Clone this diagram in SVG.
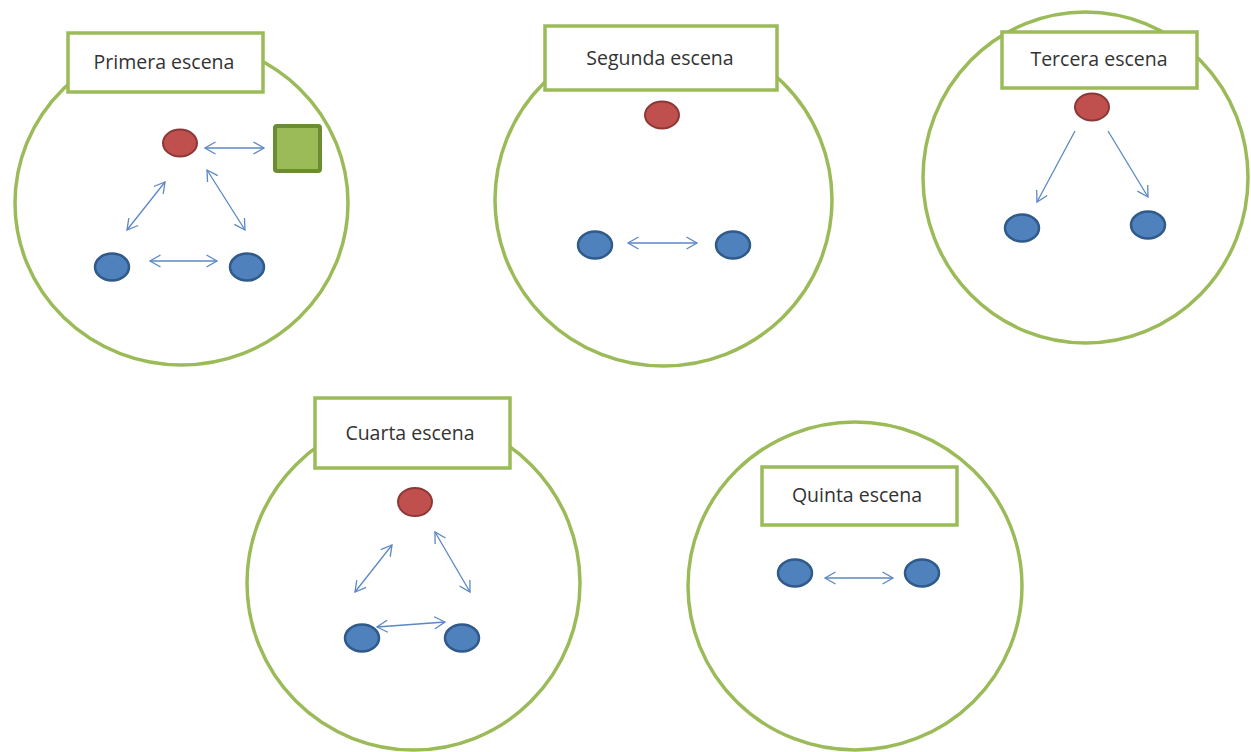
<svg xmlns="http://www.w3.org/2000/svg" width="1251" height="752" viewBox="0 0 1251 752">
<defs>
<style>
.scene{fill:none;stroke:#9BBB59;stroke-width:3.5}
.label rect{fill:#fff;stroke:#9BBB59;stroke-width:3.5}
.label text{font-family:"Open Sans","Liberation Sans",sans-serif;font-size:19.5px;fill:#333;text-anchor:middle}
.red{fill:#C0504D;stroke:#8C3836;stroke-width:2}
.blue{fill:#4F81BD;stroke:#2F5A8A;stroke-width:2.5}
.sq{fill:#9BBB59;stroke:#6B8C33;stroke-width:4}
.conn line{stroke:#5B87C5;stroke-width:1.3;fill:none;marker-end:url(#ah);marker-start:url(#ah)}
.conn line.one{marker-start:none}
</style>
<marker id="ah" viewBox="0 0 14 14" refX="12" refY="7" markerWidth="14" markerHeight="14" markerUnits="userSpaceOnUse" orient="auto-start-reverse">
<path d="M1.5,1 L12,7 L1.5,13" fill="none" stroke="#5B87C5" stroke-width="1.3"/>
</marker>
</defs>
<rect width="1251" height="752" fill="#fff"/>

<g id="scene1">
<ellipse class="scene" cx="181.5" cy="203" rx="166.5" ry="162"/>
<g class="label"><rect x="68" y="33" width="195" height="59"/><text x="164" y="69">Primera escena</text></g>
</g>
<g id="scene2">
<ellipse class="scene" cx="663.5" cy="200" rx="168.5" ry="166"/>
<g class="label"><rect x="545" y="26" width="232" height="64"/><text x="660" y="65">Segunda escena</text></g>
</g>
<g id="scene3">
<ellipse class="scene" cx="1085.5" cy="177.5" rx="162.5" ry="165.5"/>
<g class="label"><rect x="1002" y="32" width="195" height="56"/><text x="1099" y="66">Tercera escena</text></g>
</g>
<g id="scene4">
<ellipse class="scene" cx="413.5" cy="583" rx="166.5" ry="167"/>
<g class="label"><rect x="315" y="398" width="195" height="70"/><text x="410" y="440">Cuarta escena</text></g>
</g>
<g id="scene5">
<ellipse class="scene" cx="855" cy="586" rx="167" ry="164"/>
<g class="label"><rect x="762" y="467" width="195" height="58"/><text x="857" y="502">Quinta escena</text></g>
</g>

<g id="s1-red"><ellipse class="red" cx="180" cy="143" rx="17" ry="13.5"/></g>
<g id="s1-square"><rect class="sq" x="275" y="126" width="45" height="45" rx="2"/></g>
<g id="s1-blue-left"><ellipse class="blue" cx="112" cy="267" rx="17" ry="13.5"/></g>
<g id="s1-blue-right"><ellipse class="blue" cx="247" cy="267" rx="17" ry="13.5"/></g>

<g id="s2-red"><ellipse class="red" cx="662" cy="115" rx="17" ry="13.5"/></g>
<g id="s2-blue-left"><ellipse class="blue" cx="595" cy="245" rx="17" ry="13.5"/></g>
<g id="s2-blue-right"><ellipse class="blue" cx="733" cy="245" rx="17" ry="13.5"/></g>

<g id="s3-red"><ellipse class="red" cx="1092" cy="107" rx="17" ry="13.5"/></g>
<g id="s3-blue-left"><ellipse class="blue" cx="1022" cy="228" rx="17" ry="13.5"/></g>
<g id="s3-blue-right"><ellipse class="blue" cx="1148" cy="225" rx="17" ry="13.5"/></g>

<g id="s4-red"><ellipse class="red" cx="415" cy="502" rx="17" ry="14"/></g>
<g id="s4-blue-left"><ellipse class="blue" cx="362" cy="638" rx="17" ry="13.5"/></g>
<g id="s4-blue-right"><ellipse class="blue" cx="462" cy="638" rx="17" ry="13.5"/></g>

<g id="s5-blue-left"><ellipse class="blue" cx="795" cy="573" rx="17" ry="13.5"/></g>
<g id="s5-blue-right"><ellipse class="blue" cx="922" cy="573" rx="17" ry="13.5"/></g>

<g id="connectors" class="conn">
<line x1="205" y1="148" x2="264" y2="148"/>
<line x1="165" y1="182" x2="127" y2="230"/>
<line x1="207" y1="170" x2="245" y2="230"/>
<line x1="150" y1="261" x2="217" y2="261"/>
<line x1="628" y1="243" x2="697" y2="243"/>
<line class="one" x1="1075" y1="131" x2="1037" y2="202"/>
<line class="one" x1="1108" y1="131" x2="1148" y2="197"/>
<line x1="392" y1="545" x2="355" y2="592"/>
<line x1="435" y1="532" x2="470" y2="592"/>
<line x1="377" y1="627" x2="445" y2="622"/>
<line x1="825" y1="578" x2="893" y2="578"/>
</g>
</svg>
